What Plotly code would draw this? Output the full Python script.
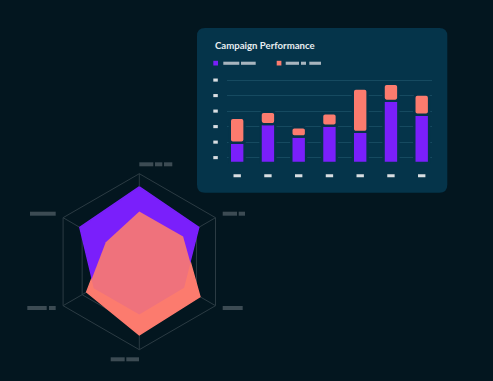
import plotly.graph_objects as go

# ---------------- data ----------------
DAYS = ["Mon", "Tue", "Wed", "Thu", "Fri", "Sat", "Sun"]
PAID = [13, 25, 17, 24, 20, 40, 31]          # purple segment
ORGANIC = [16, 8, 6, 8, 28, 11, 13]          # salmon segment

AXES = ["Reach", "Engagement", "Conversion", "Retention", "Awareness", "Loyalty"]
RADAR_A = [85, 78, 58, 59, 59, 78]           # purple
RADAR_B = [57, 57.5, 79.5, 83, 69, 44]       # salmon

# ---------------- style ----------------
W, H = 493, 381
BG = "#03161f"
CARD = "#05344a"
PURPLE = "#7a1ffb"
SALMON = "#fc7b6e"
RADAR_GRID = "#2b3b43"
RADAR_LABEL = "#3c4b53"
LEGEND_PH = "#a8b5be"
TICK_PH = "#d9dee2"
BAR_GRID = "#164a60"


def px(x):
    return x / W


def py(y):
    return 1 - y / H


def rounded_rect(x0, y0, x1, y1, r):
    a, b, c, d = px(x0), py(y0), px(x1), py(y1)
    rx, ry = r / W, r / H
    return (f"M {a+rx},{b} L {c-rx},{b} Q {c},{b} {c},{b-ry} "
            f"L {c},{d+ry} Q {c},{d} {c-rx},{d} L {a+rx},{d} "
            f"Q {a},{d} {a},{d+ry} L {a},{b-ry} Q {a},{b} {a+rx},{b} Z")


fig = go.Figure()

# ---------------- radar ----------------
def closed(v):
    return list(v) + [v[0]]

theta = closed(AXES)
fig.add_trace(go.Scatterpolar(r=closed(RADAR_B), theta=theta, fill="toself",
                              fillcolor=SALMON, mode="lines",
                              line=dict(color=SALMON, width=1.5), hoverinfo="skip"))
fig.add_trace(go.Scatterpolar(r=closed(RADAR_A), theta=theta, fill="toself",
                              fillcolor=PURPLE, mode="lines",
                              line=dict(color=PURPLE, width=1.5), hoverinfo="skip"))
fig.add_trace(go.Scatterpolar(r=closed(RADAR_B), theta=theta, fill="toself",
                              fillcolor="rgba(252,123,110,0.9)", mode="lines",
                              line=dict(color="rgba(252,123,110,0.0)", width=0),
                              hoverinfo="skip"))

cx, cy, R = 139.3, 261.7, 88

# ---------------- bars ----------------
fig.add_trace(go.Bar(x=DAYS, y=PAID, width=0.48, name="Paid Search",
                     marker=dict(color=PURPLE, cornerradius=3,
                                 line=dict(color=CARD, width=2.4)),
                     xaxis="x", yaxis="y"))
fig.add_trace(go.Bar(x=DAYS, y=ORGANIC, base=PAID, width=0.48, name="Organic Social",
                     marker=dict(color=SALMON, cornerradius=3,
                                 line=dict(color=CARD, width=2.4)),
                     xaxis="x", yaxis="y"))

Y_TICK0, Y_DTICK = 3.4, 10
Y_TICKS = [Y_TICK0 + Y_DTICK * k for k in range(6)]

shapes = []
# card
shapes.append(dict(type="path", xref="paper", yref="paper",
                   path=rounded_rect(197, 28, 447.3, 192.7, 8),
                   fillcolor=CARD, line=dict(width=0), layer="below"))

# legend placeholders
shapes.append(dict(type="rect", xref="paper", yref="paper",
                   x0=px(213.3), x1=px(218.0), y0=py(65.5), y1=py(60.8),
                   fillcolor=PURPLE, line=dict(width=0)))
shapes.append(dict(type="rect", xref="paper", yref="paper",
                   x0=px(276.7), x1=px(281.4), y0=py(65.5), y1=py(60.8),
                   fillcolor=SALMON, line=dict(width=0)))
for a, b in [(223.3, 239.3), (241.0, 255.7), (285.7, 299.0), (301.0, 306.0), (309.3, 321.0)]:
    shapes.append(dict(type="rect", xref="paper", yref="paper",
                       x0=px(a), x1=px(b), y0=py(64.8), y1=py(61.7),
                       fillcolor=LEGEND_PH, line=dict(width=0)))

# y tick placeholders
for t in Y_TICKS:
    shapes.append(dict(type="rect", xref="paper", yref="y",
                       x0=px(213.3), x1=px(217.8), y0=t - 1, y1=t + 1,
                       fillcolor=TICK_PH, line=dict(width=0)))
# x tick placeholders
for i in range(len(DAYS)):
    shapes.append(dict(type="rect", xref="x", yref="paper",
                       x0=i - 0.12, x1=i + 0.12, y0=py(177.2), y1=py(174.3),
                       fillcolor=TICK_PH, line=dict(width=0)))

# radar label placeholders (segments in px)
RADAR_LABEL_SEGS = [
    (162.3, [(139.3, 153.3), (155.0, 162.3), (164.0, 172.3)]),
    (211.7, [(222.7, 237.0), (238.7, 245.0)]),
    (306.0, [(222.7, 242.7)]),
    (357.3, [(110.7, 124.7), (126.3, 139.0)]),
    (306.0, [(27.3, 46.7), (49.0, 55.7)]),
    (211.7, [(30.0, 55.7)]),
]
for yy, segs in RADAR_LABEL_SEGS:
    for a, b in segs:
        shapes.append(dict(type="rect", xref="paper", yref="paper",
                           x0=px(a), x1=px(b), y0=py(yy + 4), y1=py(yy),
                           fillcolor=RADAR_LABEL, line=dict(width=0)))

fig.update_layout(
    width=W, height=H,
    margin=dict(l=0, r=0, t=0, b=0),
    paper_bgcolor=BG, plot_bgcolor="rgba(0,0,0,0)",
    showlegend=False,
    barmode="overlay",
    shapes=shapes,
    polar=dict(
        domain=dict(x=[px(cx - R), px(cx + R)], y=[py(cy + R), py(cy - R)]),
        bgcolor="rgba(0,0,0,0)",
        gridshape="linear",
        radialaxis=dict(range=[0, 100], tick0=0, dtick=25, showticklabels=False,
                        ticks="", showline=False, gridcolor=RADAR_GRID, gridwidth=1,
                        layer="below traces"),
        angularaxis=dict(rotation=90, direction="clockwise", showticklabels=False,
                         ticks="", showline=True, linecolor=RADAR_GRID, linewidth=1,
                         gridcolor=RADAR_GRID, gridwidth=1, layer="below traces"),
    ),
    xaxis=dict(domain=[px(226.7), px(431.7)], range=[-0.341, 6.325],
               showgrid=False, showticklabels=False, zeroline=False, showline=False,
               ticks="", fixedrange=True),
    yaxis=dict(domain=[py(165), py(72)], range=[-1.35, 58.6],
               tickmode="linear", tick0=Y_TICK0, dtick=Y_DTICK,
               showgrid=True, gridcolor=BAR_GRID, gridwidth=1,
               showticklabels=False, zeroline=False, showline=False, ticks="",
               fixedrange=True),
    annotations=[dict(text="Campaign Performance", xref="paper", yref="paper",
                      x=px(212.6), y=py(45.3), xanchor="left", yanchor="middle",
                      showarrow=False,
                      font=dict(family="Lato", size=9.6, color="#e8eef1", weight=700))],
)

fig.write_html("out.html", config={"displayModeBar": False},
               post_script="document.body.style.margin='0px';"
                           "document.body.style.background='" + BG + "';")
